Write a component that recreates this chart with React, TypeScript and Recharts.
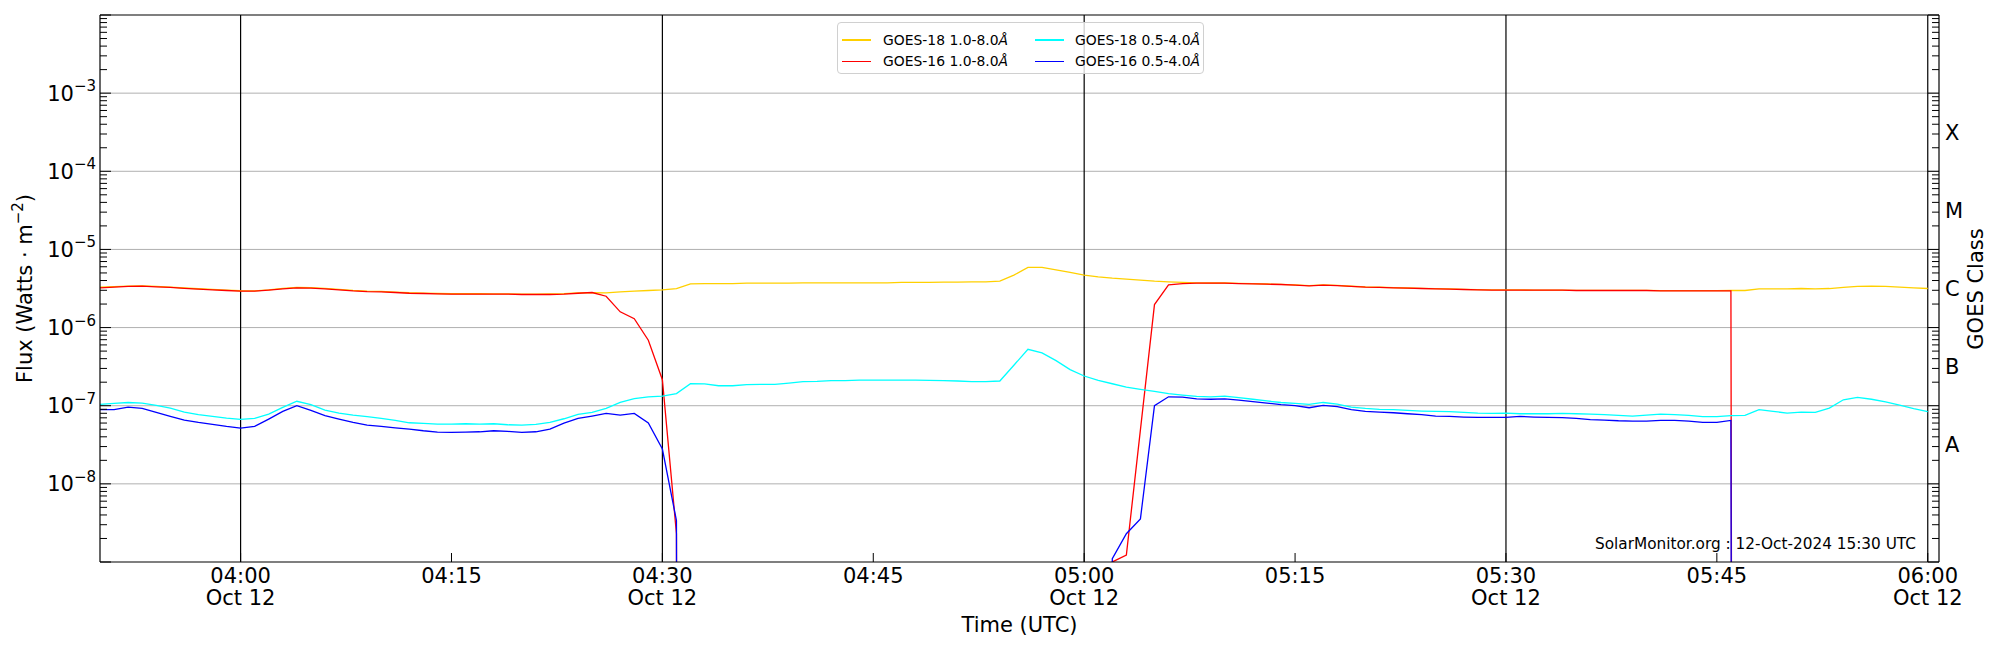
import React from "react";
import { LineChart, Line, XAxis, YAxis, ReferenceLine } from "recharts";

// one reading per minute, starting at 03:50 UTC on 12 Oct 2024
// D = instrument dropout (zero flux, clipped to the bottom of the log axis)
const D = 1e-100;

const goes18Long = [
  3.28e-6, 3.34e-6, 3.4e-6, 3.42e-6, 3.36e-6, 3.3e-6, 3.21e-6, 3.14e-6, 3.08e-6, 3.02e-6,
  2.96e-6, 2.95e-6, 3.04e-6, 3.17e-6, 3.27e-6, 3.25e-6, 3.17e-6, 3.08e-6, 2.99e-6, 2.93e-6,
  2.9e-6, 2.85e-6, 2.79e-6, 2.76e-6, 2.73e-6, 2.71e-6, 2.71e-6, 2.71e-6, 2.7e-6, 2.7e-6,
  2.68e-6, 2.68e-6, 2.69e-6, 2.72e-6, 2.78e-6, 2.8e-6, 2.78e-6, 2.87e-6, 2.92e-6, 2.98e-6,
  3.04e-6, 3.16e-6, 3.63e-6, 3.66e-6, 3.66e-6, 3.66e-6, 3.7e-6, 3.7e-6, 3.7e-6, 3.7e-6,
  3.74e-6, 3.74e-6, 3.74e-6, 3.74e-6, 3.74e-6, 3.74e-6, 3.74e-6, 3.78e-6, 3.78e-6, 3.78e-6,
  3.81e-6, 3.81e-6, 3.85e-6, 3.85e-6, 3.93e-6, 4.69e-6, 5.88e-6, 5.88e-6, 5.48e-6, 5.07e-6,
  4.69e-6, 4.46e-6, 4.29e-6, 4.17e-6, 4.05e-6, 3.93e-6, 3.85e-6, 3.78e-6, 3.74e-6, 3.72e-6,
  3.72e-6, 3.68e-6, 3.65e-6, 3.61e-6, 3.58e-6, 3.52e-6, 3.45e-6, 3.51e-6, 3.47e-6, 3.38e-6,
  3.31e-6, 3.28e-6, 3.25e-6, 3.21e-6, 3.18e-6, 3.15e-6, 3.12e-6, 3.09e-6, 3.06e-6, 3.03e-6,
  3.03e-6, 3.03e-6, 3.02e-6, 3.02e-6, 3.02e-6, 3.0e-6, 3.0e-6, 3.0e-6, 2.99e-6, 2.99e-6,
  2.99e-6, 2.97e-6, 2.97e-6, 2.97e-6, 2.97e-6, 2.97e-6, 2.98e-6, 2.98e-6, 3.13e-6, 3.13e-6,
  3.13e-6, 3.16e-6, 3.13e-6, 3.16e-6, 3.26e-6, 3.36e-6, 3.39e-6, 3.36e-6, 3.29e-6, 3.23e-6,
  3.16e-6,
];

const goes16Long = [
  3.23e-6, 3.29e-6, 3.36e-6, 3.39e-6, 3.32e-6, 3.26e-6, 3.17e-6, 3.1e-6, 3.04e-6, 2.98e-6,
  2.92e-6, 2.92e-6, 3.01e-6, 3.13e-6, 3.23e-6, 3.2e-6, 3.13e-6, 3.04e-6, 2.95e-6, 2.89e-6,
  2.86e-6, 2.81e-6, 2.75e-6, 2.73e-6, 2.7e-6, 2.68e-6, 2.68e-6, 2.68e-6, 2.68e-6, 2.68e-6,
  2.65e-6, 2.65e-6, 2.65e-6, 2.68e-6, 2.75e-6, 2.81e-6, 2.52e-6, 1.59e-6, 1.3e-6, 6.88e-7,
  2.15e-7, 2.3e-9, D, null, null, null, null, null, null, null,
  null, null, null, null, null, null, null, null, null, null,
  null, null, null, null, null, null, null, null, null, null,
  null, D, 1.0e-9, 1.23e-9, 4.9e-8, 1.97e-6, 3.52e-6, 3.66e-6, 3.7e-6, 3.7e-6,
  3.7e-6, 3.66e-6, 3.63e-6, 3.59e-6, 3.56e-6, 3.49e-6, 3.42e-6, 3.49e-6, 3.45e-6, 3.36e-6,
  3.29e-6, 3.26e-6, 3.23e-6, 3.19e-6, 3.16e-6, 3.13e-6, 3.1e-6, 3.07e-6, 3.04e-6, 3.01e-6,
  3.01e-6, 3.01e-6, 3.01e-6, 3.01e-6, 3.01e-6, 2.98e-6, 2.98e-6, 2.98e-6, 2.98e-6, 2.98e-6,
  2.98e-6, 2.95e-6, 2.95e-6, 2.95e-6, 2.95e-6, 2.95e-6, 2.95e-6, D, null, null,
  null, null, null, null, null, null, null, null, null, null,
  null,
];

const goes18Short = [
  1.04e-7, 1.07e-7, 1.1e-7, 1.08e-7, 1.01e-7, 9.33e-8, 8.3e-8, 7.67e-8, 7.3e-8, 6.95e-8,
  6.68e-8, 6.88e-8, 7.82e-8, 9.52e-8, 1.14e-7, 1.03e-7, 8.8e-8, 8.05e-8, 7.59e-8, 7.23e-8,
  6.88e-8, 6.49e-8, 6.05e-8, 5.93e-8, 5.82e-8, 5.82e-8, 5.88e-8, 5.82e-8, 5.88e-8, 5.71e-8,
  5.65e-8, 5.76e-8, 6.11e-8, 6.81e-8, 7.74e-8, 8.21e-8, 9.24e-8, 1.1e-7, 1.23e-7, 1.3e-7,
  1.33e-7, 1.43e-7, 1.91e-7, 1.9e-7, 1.8e-7, 1.8e-7, 1.86e-7, 1.88e-7, 1.88e-7, 1.95e-7,
  2.03e-7, 2.05e-7, 2.09e-7, 2.09e-7, 2.13e-7, 2.13e-7, 2.13e-7, 2.13e-7, 2.13e-7, 2.11e-7,
  2.09e-7, 2.07e-7, 2.03e-7, 2.03e-7, 2.07e-7, 3.29e-7, 5.27e-7, 4.73e-7, 3.78e-7, 2.9e-7,
  2.4e-7, 2.11e-7, 1.91e-7, 1.73e-7, 1.62e-7, 1.53e-7, 1.43e-7, 1.37e-7, 1.32e-7, 1.3e-7,
  1.33e-7, 1.27e-7, 1.21e-7, 1.15e-7, 1.1e-7, 1.07e-7, 1.04e-7, 1.1e-7, 1.05e-7, 9.61e-8,
  9.24e-8, 8.97e-8, 8.89e-8, 8.71e-8, 8.55e-8, 8.46e-8, 8.38e-8, 8.21e-8, 8.05e-8, 7.97e-8,
  8.05e-8, 7.89e-8, 7.89e-8, 7.89e-8, 7.97e-8, 7.89e-8, 7.82e-8, 7.67e-8, 7.52e-8, 7.38e-8,
  7.59e-8, 7.82e-8, 7.67e-8, 7.52e-8, 7.23e-8, 7.23e-8, 7.45e-8, 7.52e-8, 8.89e-8, 8.46e-8,
  8.05e-8, 8.3e-8, 8.21e-8, 9.33e-8, 1.19e-7, 1.28e-7, 1.21e-7, 1.12e-7, 1.02e-7, 9.16e-8,
  8.38e-8,
];

const goes16Short = [
  8.89e-8, 8.89e-8, 9.61e-8, 9.24e-8, 8.21e-8, 7.3e-8, 6.55e-8, 6.11e-8, 5.76e-8, 5.43e-8,
  5.17e-8, 5.43e-8, 6.75e-8, 8.46e-8, 1.0e-7, 8.71e-8, 7.45e-8, 6.75e-8, 6.11e-8, 5.65e-8,
  5.43e-8, 5.22e-8, 5.02e-8, 4.78e-8, 4.6e-8, 4.55e-8, 4.6e-8, 4.64e-8, 4.78e-8, 4.69e-8,
  4.55e-8, 4.64e-8, 5.02e-8, 6.0e-8, 6.88e-8, 7.38e-8, 7.97e-8, 7.59e-8, 7.97e-8, 6.0e-8,
  2.79e-8, 3.39e-9, D, null, null, null, null, null, null, null,
  null, null, null, null, null, null, null, null, null, null,
  null, null, null, null, null, null, null, null, null, null,
  null, D, 1.1e-9, 2.3e-9, 3.56e-9, 1.0e-7, 1.3e-7, 1.29e-7, 1.22e-7, 1.21e-7,
  1.22e-7, 1.18e-7, 1.13e-7, 1.08e-7, 1.03e-7, 1.0e-7, 9.42e-8, 1.01e-7, 9.71e-8, 8.89e-8,
  8.46e-8, 8.3e-8, 8.13e-8, 7.89e-8, 7.67e-8, 7.38e-8, 7.3e-8, 7.16e-8, 7.08e-8, 7.08e-8,
  7.08e-8, 7.3e-8, 7.16e-8, 7.08e-8, 7.02e-8, 6.88e-8, 6.62e-8, 6.55e-8, 6.42e-8, 6.36e-8,
  6.36e-8, 6.49e-8, 6.49e-8, 6.36e-8, 6.11e-8, 6.11e-8, 6.49e-8, D, null, null,
  null, null, null, null, null, null, null, null, null, null,
  null,
];

// x axis: minutes after 03:50
const timeTicks = [10, 25, 40, 55, 70, 85, 100, 115, 130];
const timeLabels = ["04:00", "04:15", "04:30", "04:45", "05:00", "05:15", "05:30", "05:45", "06:00"];
const dateLabel = "Oct 12";
const markerTimes = [10, 40, 70, 100, 130];
const decades = [1e-8, 1e-7, 1e-6, 1e-5, 1e-4, 1e-3];
const classLetters = ["A", "B", "C", "M", "X"];

const legendItems = [
  { label: "GOES-18 1.0-8.0", color: "#ffd000" },
  { label: "GOES-16 1.0-8.0", color: "#ff0000" },
  { label: "GOES-18 0.5-4.0", color: "#00ffff" },
  { label: "GOES-16 0.5-4.0", color: "#0000ff" },
];

const rows = goes18Long.map((v, i) => ({
  t: i,
  g18l: v,
  g16l: goes16Long[i],
  g18s: goes18Short[i],
  g16s: goes16Short[i],
}));

const logTicks: number[] = [];
for (let e = -9; e < -2; e++) for (let m = 1; m < 10; m++) logTicks.push(m * Math.pow(10, e));
logTicks.push(1e-2);
const classTicks = classLetters.map((_, i) => Math.pow(10, -7.5 + i));
const rightTicks = [...logTicks, ...classTicks];

const FONT = "DejaVu Sans";
const FS = 21;

const LeftTick = (props: any) => {
  const { x, y, payload } = props;
  const lg = Math.log10(payload.value);
  const e = Math.round(lg);
  const major = Math.abs(lg - e) < 1e-6;
  return (
    <g>
      <line x1={x} x2={x + (major ? 11 : 7)} y1={y} y2={y} stroke="#000" strokeWidth={1} />
      {major && e >= -8 && e <= -3 && (
        <text x={x - 4} y={y + 7.5} textAnchor="end" fontSize={FS} fontFamily={FONT} fill="#000">
          10<tspan dy={-9.5} fontSize={15}>−{-e}</tspan>
        </text>
      )}
    </g>
  );
};

const RightTick = (props: any) => {
  const { x, y, payload } = props;
  const lg = Math.log10(payload.value);
  const fl = Math.floor(lg);
  if (Math.abs(lg - fl - 0.5) < 1e-6) {
    return (
      <text x={x + 6} y={y + 7.5} fontSize={FS} fontFamily={FONT} fill="#000">
        {classLetters[fl + 8]}
      </text>
    );
  }
  const major = Math.abs(lg - Math.round(lg)) < 1e-6;
  return <line x1={x} x2={x - (major ? 11 : 7)} y1={y} y2={y} stroke="#000" strokeWidth={1} />;
};

const TimeTick = (props: any) => {
  const { x, y, payload } = props;
  const i = timeTicks.indexOf(payload.value);
  const withDate = markerTimes.includes(payload.value);
  return (
    <g>
      <line x1={x} x2={x} y1={y} y2={y - 9} stroke="#000" strokeWidth={1} />
      <text x={x} y={y + 20.5} textAnchor="middle" fontSize={FS} fontFamily={FONT} fill="#000">
        {timeLabels[i]}
      </text>
      {withDate && (
        <text x={x} y={y + 43} textAnchor="middle" fontSize={FS} fontFamily={FONT} fill="#000">
          {dateLabel}
        </text>
      )}
    </g>
  );
};

export default function App() {
  const spine = { stroke: "#000", strokeWidth: 1.2 };
  return (
    <div style={{ position: "absolute", left: 0, top: 0, width: 2000, height: 650, background: "#fff", fontFamily: FONT }}>
      <LineChart width={2000} height={650} data={rows} margin={{ top: 14, right: 60, bottom: 87, left: 99 }}>
        <XAxis
          dataKey="t"
          type="number"
          domain={[0, 130.8]}
          allowDataOverflow
          ticks={timeTicks}
          interval={0}
          height={1}
          tickSize={0}
          tickMargin={0}
          tickLine={false}
          axisLine={spine}
          tick={<TimeTick />}
        />
        <XAxis
          xAxisId="top"
          orientation="top"
          type="number"
          domain={[0, 130.8]}
          allowDataOverflow
          height={1}
          tick={false}
          tickLine={false}
          axisLine={spine}
        />
        <YAxis
          type="number"
          scale="log"
          domain={[1e-9, 1e-2]}
          allowDataOverflow
          ticks={logTicks}
          interval={0}
          width={1}
          tickSize={0}
          tickMargin={0}
          tickLine={false}
          axisLine={spine}
          tick={<LeftTick />}
        />
        <YAxis
          yAxisId="right"
          orientation="right"
          type="number"
          scale="log"
          domain={[1e-9, 1e-2]}
          allowDataOverflow
          ticks={rightTicks}
          interval={0}
          width={1}
          tickSize={0}
          tickMargin={0}
          tickLine={false}
          axisLine={spine}
          tick={<RightTick />}
        />
        {decades.map((d) => (
          <ReferenceLine key={d} y={d} stroke="#b0b0b0" strokeWidth={1} />
        ))}
        {markerTimes.map((m) => (
          <ReferenceLine key={m} x={m} stroke="#000" strokeWidth={1.2} />
        ))}
        <Line dataKey="g18l" stroke={legendItems[0].color} strokeWidth={1.3} dot={false} type="linear" isAnimationActive={false} />
        <Line dataKey="g16l" stroke={legendItems[1].color} strokeWidth={1.3} dot={false} type="linear" isAnimationActive={false} />
        <Line dataKey="g18s" stroke={legendItems[2].color} strokeWidth={1.3} dot={false} type="linear" isAnimationActive={false} />
        <Line dataKey="g16s" stroke={legendItems[3].color} strokeWidth={1.3} dot={false} type="linear" isAnimationActive={false} />
      </LineChart>

      <svg width={2000} height={650} style={{ position: "absolute", left: 0, top: 0, pointerEvents: "none" }} fontFamily={FONT}>
        <text transform="translate(31.5,288.5) rotate(-90)" textAnchor="middle" fontSize={FS} fill="#000">
          Flux (Watts · m<tspan dy={-8.5} fontSize={15}>−2</tspan>
          <tspan dy={8.5}>)</tspan>
        </text>
        <text transform="translate(1982.5,289) rotate(-90)" textAnchor="middle" fontSize={FS} fill="#000">
          GOES Class
        </text>
        <text x={1019.5} y={632} textAnchor="middle" fontSize={FS} fill="#000">
          Time (UTC)
        </text>
        <text x={1916} y={549} textAnchor="end" fontSize={15.3} fill="#000">
          SolarMonitor.org : 12-Oct-2024 15:30 UTC
        </text>
      </svg>

      <div
        style={{
          position: "absolute",
          left: 837,
          top: 22,
          width: 367,
          height: 52,
          boxSizing: "border-box",
          border: "1px solid #d0d0d0",
          borderRadius: 4,
          background: "rgba(255,255,255,0.8)",
          fontSize: 13.9,
          color: "#000",
        }}
      >
        {legendItems.map((it, i) => {
          const col = Math.floor(i / 2);
          const row = i % 2;
          const top = row === 0 ? 17 : 38.4;
          const lineLeft = col === 0 ? 4 : 197;
          const textLeft = col === 0 ? 45 : 237;
          return (
            <React.Fragment key={it.label}>
              <div style={{ position: "absolute", left: lineLeft, top: top - 0.7, width: 29, height: 1.4, background: it.color }} />
              <div style={{ position: "absolute", left: textLeft, top: top - 9, lineHeight: "18px", whiteSpace: "nowrap" }}>
                {it.label}
                <span style={{ fontStyle: "italic" }}>Å</span>
              </div>
            </React.Fragment>
          );
        })}
      </div>
    </div>
  );
}
